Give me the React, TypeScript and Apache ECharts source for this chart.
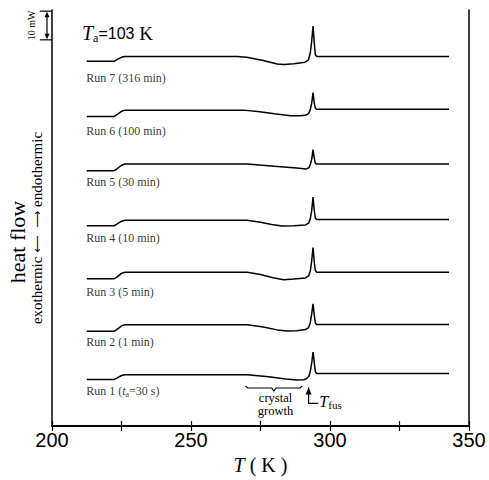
import React, { useEffect, useRef } from "react";
import * as echarts from "echarts";

// x axis (temperature, K)
const xMin = 200;
const xMax = 350;
const xTickStep = 25;
const xLabelStep = 50;
// y axis (heat flow, mW, stacked offsets)
const yMin = 0;
const yMax = 145;

// DSC traces [T (K), heat flow (mW, offset)]
const run1: number[][] = [
  [212.5, 16.2], [222.3, 16.2], [223.2, 16.6], [225.0, 17.6], [226.3, 17.9],
  [270.2, 17.9], [278.0, 17.2], [284.0, 16.4], [288.2, 16.0], [290.5, 16.1],
  [291.6, 16.5], [292.5, 17.5], [293.0, 19.5], [293.5, 22.5], [293.9, 25.8],
  [294.3, 22.5], [294.7, 19.0], [295.2, 18.3], [342.8, 18.3],
];
const run2: number[][] = [
  [212.5, 33.0], [222.3, 33.0], [223.2, 33.5], [225.0, 34.9], [226.3, 35.3],
  [270.2, 35.3], [276.0, 34.5], [281.0, 33.5], [284.6, 33.1], [288.0, 33.2],
  [291.2, 33.6], [292.3, 34.3], [292.9, 36.0], [293.4, 39.0], [293.9, 42.6],
  [294.3, 39.0], [294.7, 36.0], [295.2, 35.4], [342.8, 35.4],
];
const run3: number[][] = [
  [212.5, 51.3], [222.3, 51.3], [223.2, 51.8], [225.0, 53.2], [226.3, 53.6],
  [270.2, 53.6], [275.0, 52.8], [279.5, 51.7], [283.3, 51.0], [287.0, 51.2],
  [291.2, 51.6], [292.3, 52.3], [292.9, 54.0], [293.4, 57.5], [293.9, 62.2],
  [294.3, 57.5], [294.7, 54.3], [295.2, 53.6], [342.8, 53.6],
];
const run4: number[][] = [
  [212.5, 69.8], [222.3, 69.8], [223.2, 70.3], [225.0, 71.4], [226.3, 71.7],
  [270.2, 71.7], [275.0, 71.0], [279.0, 70.2], [282.8, 69.7], [287.0, 69.8],
  [291.2, 70.1], [292.3, 70.7], [292.9, 72.2], [293.4, 75.0], [293.9, 79.8],
  [294.3, 75.5], [294.7, 72.5], [295.2, 72.0], [342.8, 72.0],
];
const run5: number[][] = [
  [212.5, 89.0], [222.3, 89.0], [223.2, 89.5], [225.0, 90.9], [226.3, 91.3],
  [270.2, 91.3], [280.0, 90.5], [288.0, 89.9], [291.5, 89.6], [292.4, 90.0],
  [293.0, 91.3], [293.5, 93.5], [293.9, 96.3], [294.3, 93.5], [294.7, 91.6],
  [295.2, 91.3], [342.8, 91.3],
];
const run6: number[][] = [
  [212.5, 107.9], [222.3, 107.9], [223.2, 108.4], [225.0, 109.7], [226.3, 110.1],
  [268.9, 110.1], [274.0, 109.6], [280.0, 108.8], [285.8, 108.1], [289.0, 108.1],
  [291.2, 108.3], [292.3, 108.9], [292.9, 110.2], [293.4, 112.5], [293.9, 116.2],
  [294.3, 112.8], [294.7, 110.8], [295.2, 110.4], [342.8, 110.4],
];
const run7: number[][] = [
  [212.5, 127.1], [222.3, 127.1], [223.2, 127.6], [225.0, 128.5], [226.3, 128.8],
  [266.6, 128.8], [270.0, 128.5], [276.0, 127.4], [281.0, 126.2], [283.5, 126.0],
  [287.0, 126.3], [291.0, 126.8], [292.2, 127.5], [292.9, 130.0], [293.4, 134.0],
  [293.9, 139.4], [294.3, 134.0], [294.7, 129.5], [295.2, 128.8], [342.8, 128.8],
];
const runs = [run1, run2, run3, run4, run5, run6, run7];

// run labels and their anchor [T, y]
const runLabels = [
  "Run 1 ({it|t}{sub|a}=30 s)",
  "Run 2 (1 min)",
  "Run 3 (5 min)",
  "Run 4 (10 min)",
  "Run 5 (30 min)",
  "Run 6 (100 min)",
  "Run 7 (316 min)",
];
const runLabelPos: number[][] = [
  [212.3, 12.1], [212.3, 29.3], [212.3, 46.7], [212.3, 65.4],
  [212.3, 85.0], [212.3, 102.9], [212.3, 121.4],
];

// annotations (data coordinates)
const scaleBarT = 198.2;
const scaleBarCapT: number[] = [195.6, 200];
const scaleBarY: number[] = [134.6, 144.6]; // 10 mW
const crystalBrace: number[][] = [
  [269.6, 14.0], [270.4, 13.25], [279.0, 13.25], [279.8, 12.2],
  [280.6, 13.25], [289.2, 13.25], [290.0, 14.0],
];
const crystalTextTop: number[] = [280.4, 9.9];
const crystalTextBottom: number[] = [280.4, 5.3];
const tfusArrow: number[][] = [[292.3, 13.4], [292.3, 7.9], [295.8, 7.9]];

const serif = "Liberation Serif";
const sans = "Liberation Sans";

export default function App() {
  const ref = useRef<HTMLDivElement>(null);
  useEffect(() => {
    document.body.style.margin = "0";
    const chart = echarts.init(ref.current!, null, { renderer: "svg" });
    const lineSeries = runs.map((d, i) => ({
      type: "line",
      name: "run" + (i + 1),
      data: d,
      symbol: "none",
      lineStyle: { color: "#000", width: 1.5 },
      silent: true,
      z: 3,
    }));
    const labelSeries = {
      type: "scatter",
      symbolSize: 0,
      silent: true,
      data: runLabelPos.map((p, i) => ({ value: p, name: runLabels[i] })),
      label: {
        show: true,
        position: "right",
        distance: 0,
        color: "#000",
        fontFamily: serif,
        fontSize: 12,
        formatter: (p: any) => p.name,
        rich: {
          it: { fontFamily: serif, fontSize: 12, fontStyle: "italic", color: "#000" },
          sub: { fontFamily: serif, fontSize: 8, color: "#000", padding: [6, 0, 0, 0] },
        },
      },
    };
    const option: any = {
      animation: false,
      backgroundColor: "#fff",
      grid: { left: 52, right: 20, top: 10, bottom: 51 },
      xAxis: [
        {
          type: "value",
          min: xMin,
          max: xMax,
          interval: xTickStep,
          position: "bottom",
          axisLine: { lineStyle: { color: "#000", width: 2 } },
          axisTick: { inside: true, length: 5, lineStyle: { color: "#000", width: 1.2 } },
          splitLine: { show: false },
          axisLabel: {
            color: "#000",
            fontFamily: sans,
            fontSize: 20,
            margin: 4,
            formatter: (v: number) => (v % xLabelStep === 0 ? String(v) : ""),
          },
          name: "{it|T}{n| ( K )}",
          nameLocation: "middle",
          nameGap: 29,
          nameTextStyle: {
            rich: {
              it: { fontFamily: serif, fontSize: 20, fontStyle: "italic", color: "#000" },
              n: { fontFamily: serif, fontSize: 20, color: "#000" },
            },
          },
        },
        {
          type: "value",
          min: xMin,
          max: xMax,
          interval: xTickStep,
          position: "top",
          axisLine: { lineStyle: { color: "#000", width: 1.5 } },
          axisTick: { inside: true, length: 5, lineStyle: { color: "#000", width: 1.2 } },
          splitLine: { show: false },
          axisLabel: { show: false },
        },
      ],
      yAxis: [
        {
          type: "value",
          min: yMin,
          max: yMax,
          position: "left",
          axisLine: { show: true, lineStyle: { color: "#000", width: 1.5 } },
          axisTick: { show: false },
          axisLabel: { show: false },
          splitLine: { show: false },
        },
        {
          type: "value",
          min: yMin,
          max: yMax,
          position: "right",
          axisLine: { show: true, lineStyle: { color: "#000", width: 1.5 } },
          axisTick: { show: false },
          axisLabel: { show: false },
          splitLine: { show: false },
        },
      ],
      series: [...lineSeries, labelSeries],
    };
    chart.setOption(option);

    const px = (v: number[]) =>
      chart.convertToPixel({ xAxisIndex: 0, yAxisIndex: 0 }, v) as number[];

    const sbTop = px([scaleBarT, scaleBarY[1]]);
    const sbBot = px([scaleBarT, scaleBarY[0]]);
    const capL = px([scaleBarCapT[0], scaleBarY[0]])[0];
    const capR = px([scaleBarCapT[1], scaleBarY[0]])[0];
    const brace = crystalBrace.map(px);
    const ctTop = px(crystalTextTop);
    const ctBot = px(crystalTextBottom);
    const ta = tfusArrow.map(px);
    const blk = { stroke: "#000", lineWidth: 1.2, fill: "none" };
    const ctStyle = { fontFamily: serif, fontSize: 12.5, lineHeight: 11, fill: "#000", align: "center", verticalAlign: "middle" };

    chart.setOption({
      graphic: [
        // scale bar
        { type: "line", shape: { x1: sbTop[0], y1: sbTop[1] + 3, x2: sbBot[0], y2: sbBot[1] - 3 }, style: blk },
        { type: "line", shape: { x1: capL, y1: sbTop[1], x2: capR, y2: sbTop[1] }, style: blk },
        { type: "line", shape: { x1: capL, y1: sbBot[1], x2: capR, y2: sbBot[1] }, style: blk },
        { type: "polygon", shape: { points: [[sbTop[0], sbTop[1] + 0.5], [sbTop[0] - 2.5, sbTop[1] + 6], [sbTop[0] + 2.5, sbTop[1] + 6]] }, style: { fill: "#000" } },
        { type: "polygon", shape: { points: [[sbBot[0], sbBot[1] - 0.5], [sbBot[0] - 2.5, sbBot[1] - 6], [sbBot[0] + 2.5, sbBot[1] - 6]] }, style: { fill: "#000" } },
        {
          type: "text", x: 31, y: (sbTop[1] + sbBot[1]) / 2, rotation: Math.PI / 2,
          style: { text: "10 mW", fontFamily: serif, fontSize: 10, fill: "#000", align: "center", verticalAlign: "middle" },
        },
        // Ta label
        {
          type: "text", x: 82, y: 33,
          style: {
            text: "{it|T}{sub|a}{n|=103}{k| K}",
            verticalAlign: "middle",
            align: "left",
            rich: {
              it: { fontFamily: serif, fontSize: 20, fontStyle: "italic", fill: "#000" },
              sub: { fontFamily: serif, fontSize: 12, fill: "#000", padding: [10, 0, 0, 0] },
              n: { fontFamily: sans, fontSize: 16, fill: "#000" },
              k: { fontFamily: serif, fontSize: 19, fill: "#000" },
            },
          },
        },
        // y axis titles
        {
          type: "text", x: 17, y: 242, rotation: Math.PI / 2,
          style: { text: "heat flow", fontFamily: serif, fontSize: 22, fill: "#000", align: "center", verticalAlign: "middle" },
        },
        {
          type: "text", x: 37, y: 228, rotation: Math.PI / 2,
          style: {
            text: "{t|exothermic}{a| \u27F5  \u27F6 }{t|endothermic}",
            align: "center",
            verticalAlign: "middle",
            rich: {
              t: { fontFamily: serif, fontSize: 15, fill: "#000" },
              a: { fontFamily: "DejaVu Sans", fontSize: 12, fill: "#000" },
            },
          },
        },
        // crystal growth bracket
        { type: "polyline", shape: { points: brace }, style: blk },
        { type: "text", x: ctTop[0], y: ctTop[1], style: { ...ctStyle, text: "crystal" } },
        { type: "text", x: ctBot[0], y: ctBot[1], style: { ...ctStyle, text: "growth" } },
        // Tfus arrow
        { type: "polyline", shape: { points: ta }, style: blk },
        { type: "polygon", shape: { points: [[ta[0][0], ta[0][1]], [ta[0][0] - 3, ta[0][1] + 7], [ta[0][0] + 3, ta[0][1] + 7]] }, style: { fill: "#000" } },
        {
          type: "text", x: ta[2][0] + 1, y: ta[2][1] - 2,
          style: {
            text: "{it|T}{sub|fus}",
            verticalAlign: "middle",
            align: "left",
            rich: {
              it: { fontFamily: serif, fontSize: 16, fontStyle: "italic", fill: "#000" },
              sub: { fontFamily: serif, fontSize: 11, fill: "#000", padding: [8, 0, 0, 0] },
            },
          },
        },
      ],
    });
    return () => chart.dispose();
  }, []);
  return <div ref={ref} style={{ width: 489, height: 480 }} />;
}
